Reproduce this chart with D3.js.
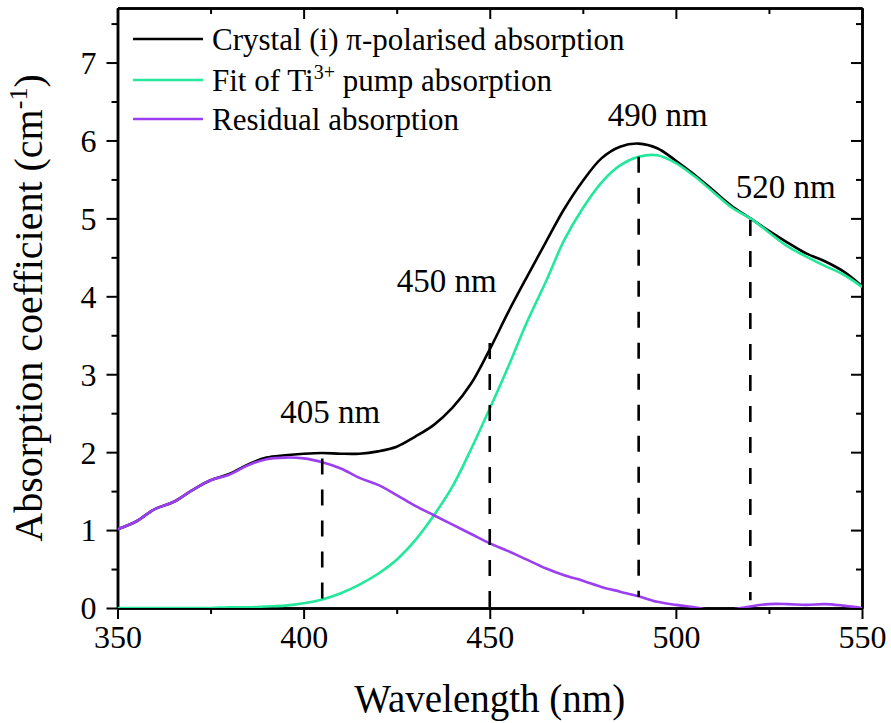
<!DOCTYPE html>
<html>
<head>
<meta charset="utf-8">
<script src="https://cdn.jsdelivr.net/npm/d3@7"></script>
</head>
<body style="margin:0;background:#fff">
<svg id="chart" width="891" height="723" font-family="Liberation Serif"></svg>
<script>
// wavelength grid (nm) and the three curves
const wavelength = [350, 355, 360, 365, 370, 375, 380, 385, 390, 395,
  400, 405, 410, 415, 420, 425, 430, 435, 440, 445,
  450, 455, 460, 465, 470, 475, 480, 485, 490, 495,
  500, 505, 510, 515, 520, 525, 530, 535, 540, 545, 550];

const crystal = [1.01, 1.11, 1.27, 1.36, 1.51, 1.64, 1.72, 1.84, 1.93, 1.96,
  1.98, 1.99, 1.98, 1.98, 2.01, 2.07, 2.20, 2.35, 2.57, 2.88,
  3.32, 3.80, 4.25, 4.69, 5.12, 5.48, 5.77, 5.92, 5.96, 5.90,
  5.74, 5.56, 5.36, 5.16, 5.00, 4.84, 4.69, 4.55, 4.45, 4.32, 4.13];

const fit = [0.00, 0.00, 0.00, 0.00, 0.00, 0.00, 0.01, 0.01, 0.02, 0.03,
  0.06, 0.11, 0.19, 0.30, 0.44, 0.62, 0.87, 1.19, 1.56, 2.04,
  2.56, 3.10, 3.67, 4.18, 4.72, 5.13, 5.46, 5.68, 5.79, 5.81,
  5.71, 5.54, 5.34, 5.14, 5.00, 4.82, 4.64, 4.51, 4.39, 4.28, 4.12];

const residual = [1.01, 1.11, 1.27, 1.36, 1.51, 1.64, 1.71, 1.83, 1.91, 1.93,
  1.92, 1.87, 1.79, 1.67, 1.58, 1.45, 1.31, 1.19, 1.07, 0.95,
  0.83, 0.73, 0.62, 0.51, 0.42, 0.35, 0.27, 0.21, 0.15, 0.08,
  0.04, 0.01, -0.03, -0.02, 0.02, 0.05, 0.05, 0.04, 0.05, 0.03, 0.00];

const xTicks = [350, 400, 450, 500, 550];
const xMinor = [375, 425, 475, 525];
const yTicks = [0, 1, 2, 3, 4, 5, 6, 7];
const yMinor = [0.5, 1.5, 2.5, 3.5, 4.5, 5.5, 6.5, 7.5];

// dashed guide lines: wavelength and the value range they span
const markerNm = [405, 450, 490, 520];
const markerFrom = [0.12, 0, 0.14, 0.10];
const markerTo = [1.92, 3.40, 5.79, 4.98];
const markerLabels = ['405 nm', '450 nm', '490 nm', '520 nm'];

const seriesNames = ['Crystal (i) \u03c0-polarised absorption', 'Fit of Ti', 'Residual absorption'];

const colors = ['#000000', '#22e89c', '#9b3ff0'];

const FONT = 'Liberation Serif';
const svg = d3.select('#chart');
const margin = {top: 8, right: 29, bottom: 115, left: 117.5};
const width = 891, height = 723;

const x = d3.scaleLinear().domain([350, 550]).range([margin.left, width - margin.right]);
const y = d3.scaleLinear().domain([0, 7.7]).range([height - margin.bottom, margin.top]);

const majorLen = 11, minorLen = 6;

function axisGroup(axis, transform) {
  const g = svg.append('g').attr('transform', transform).call(axis);
  g.attr('font-family', FONT);
  g.select('.domain').attr('stroke-width', 2.5);
  g.selectAll('.tick line').attr('stroke-width', 2);
  return g;
}

// minor ticks first, then major
axisGroup(d3.axisBottom(x).tickValues(xMinor).tickSize(minorLen).tickFormat('').tickSizeOuter(0),
  `translate(0,${y(0)})`);
const gx = axisGroup(d3.axisBottom(x).tickValues(xTicks).tickSize(majorLen).tickPadding(6).tickSizeOuter(0),
  `translate(0,${y(0)})`);
gx.selectAll('.tick text').attr('font-size', 32).attr('font-family', FONT).attr('fill', '#000');

axisGroup(d3.axisTop(x).tickValues(xMinor).tickSize(-minorLen).tickFormat('').tickSizeOuter(0),
  `translate(0,${margin.top})`);
axisGroup(d3.axisTop(x).tickValues(xTicks).tickSize(-majorLen).tickFormat('').tickSizeOuter(0),
  `translate(0,${margin.top})`);

axisGroup(d3.axisLeft(y).tickValues(yMinor).tickSize(minorLen).tickFormat('').tickSizeOuter(0),
  `translate(${margin.left},0)`);
const gy = axisGroup(d3.axisLeft(y).tickValues(yTicks).tickSize(majorLen).tickPadding(10).tickSizeOuter(0),
  `translate(${margin.left},0)`);
gy.selectAll('.tick text').attr('font-size', 32).attr('font-family', FONT).attr('fill', '#000').attr('dy', '0.34em');

axisGroup(d3.axisRight(y).tickValues(yMinor).tickSize(-minorLen).tickFormat('').tickSizeOuter(0),
  `translate(${width - margin.right},0)`);
axisGroup(d3.axisRight(y).tickValues(yTicks).tickSize(-majorLen).tickFormat('').tickSizeOuter(0),
  `translate(${width - margin.right},0)`);

// clip lines to the plot area
svg.append('clipPath').attr('id', 'plot-clip')
  .append('rect')
  .attr('x', margin.left).attr('y', margin.top)
  .attr('width', x(550) - x(350)).attr('height', y(0) - margin.top);

const line = d3.line()
  .x((d, i) => x(wavelength[i]))
  .y(d => y(d))
  .curve(d3.curveCatmullRom.alpha(0.5));

const plot = svg.append('g').attr('clip-path', 'url(#plot-clip)');
[crystal, fit, residual].forEach((s, i) => {
  plot.append('path')
    .attr('d', line(s))
    .attr('fill', 'none')
    .attr('stroke', colors[i])
    .attr('stroke-width', 2.6)
    .attr('stroke-linejoin', 'round');
});

// dashed guide lines
markerNm.forEach((nm, i) => {
  svg.append('line')
    .attr('x1', x(nm)).attr('x2', x(nm))
    .attr('y1', y(markerTo[i])).attr('y2', y(markerFrom[i]))
    .attr('stroke', '#000')
    .attr('stroke-width', 2.6)
    .attr('stroke-dasharray', '16 15');
});

// label anchors (wavelength, value of baseline)
const labelAt = [[393.7, 2.37], [425.0, 4.05], [481.7, 6.19], [516.1, 5.26]];
markerLabels.forEach((t, i) => {
  svg.append('text')
    .attr('x', x(labelAt[i][0]))
    .attr('y', y(labelAt[i][1]))
    .attr('font-family', FONT)
    .attr('font-size', 33)
    .text(t);
});

// legend
const legend = svg.append('g');
const rowY = [39, 80, 119];
seriesNames.forEach((name, i) => {
  legend.append('line')
    .attr('x1', 133).attr('x2', 203)
    .attr('y1', rowY[i]).attr('y2', rowY[i])
    .attr('stroke', colors[i]).attr('stroke-width', 2.6);
  const t = legend.append('text')
    .attr('x', 212).attr('y', rowY[i] + 11)
    .attr('font-family', FONT)
    .attr('font-size', 31);
  if (i === 1) {
    t.append('tspan').text(name);
    t.append('tspan').attr('font-size', 20).attr('dy', -12).text('3+');
    t.append('tspan').attr('dy', 12).text(' pump absorption');
  } else {
    t.text(name);
  }
});

// axis titles
svg.append('text')
  .attr('x', (x(350) + x(550)) / 2)
  .attr('y', 712)
  .attr('text-anchor', 'middle')
  .attr('font-family', FONT)
  .attr('font-size', 39)
  .text('Wavelength (nm)');

const yt = svg.append('text')
  .attr('transform', `translate(42,${(y(0) + margin.top) / 2}) rotate(-90)`)
  .attr('text-anchor', 'middle')
  .attr('font-family', FONT)
  .attr('font-size', 40);
yt.append('tspan').text('Absorption coefficient (cm');
yt.append('tspan').attr('font-size', 26).attr('dy', -15).text('-1');
yt.append('tspan').attr('dy', 15).text(')');
</script>
</body>
</html>
